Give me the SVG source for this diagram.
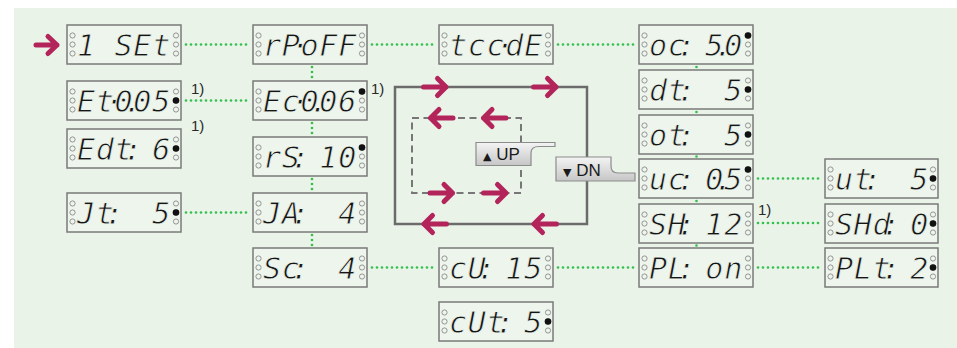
<svg xmlns="http://www.w3.org/2000/svg" xmlns:xlink="http://www.w3.org/1999/xlink" width="957" height="348" viewBox="0 0 957 348">
<style>
.box{fill:#edf5ec;stroke:#7a7a7a;stroke-width:1.5}
.led{fill:none;stroke:#8a8a8a;stroke-width:0.9}
.on{fill:#111}
.lcd{font-family:"DejaVu Sans Mono","Liberation Mono",monospace;font-style:oblique;font-size:30px;fill:#151515;stroke:#edf5ec;stroke-width:0.8;text-anchor:middle}
.note{font-family:"Liberation Sans",Arial,sans-serif;font-size:15px;fill:#2a2a2a}
.dot{stroke:#35c04f;stroke-width:2.7;stroke-linecap:round;stroke-dasharray:0 5;fill:none}
.arr{fill:none;stroke:#b3245b;stroke-width:5;stroke-linecap:round;stroke-linejoin:round}
.btn{stroke:#8c8c8c;stroke-width:1.2;fill:url(#bg)}
.btxt{font-family:"Liberation Sans",Arial,sans-serif;font-size:17px;fill:#1a1a1a}
</style>
<defs>
<linearGradient id="bg" x1="0" y1="0" x2="0" y2="1"><stop offset="0" stop-color="#f4f4f4"/><stop offset="1" stop-color="#c6c6c6"/></linearGradient>
<g id="leds"><circle class="led" cx="0" cy="-9" r="2.6"/><circle class="led" cx="0" cy="0" r="2.6"/><circle class="led" cx="0" cy="9" r="2.6"/></g>
<path id="ar" d="M-11.5,0 H11 M2.5,-8.5 L11,0 L2.5,8.5"/>
</defs>
<rect x="14" y="8" width="943" height="340" fill="#e9f3e8"/>

<g id="connectors">
<path class="dot" d="M186,44.5 H250 M372,44.5 H436 M558,44.5 H636 M186,100.5 H250 M186,212.5 H250 M372,267.5 H436 M558,267.5 H636 M758,178.5 H822 M758,223 H822 M758,267.5 H822"/>
<path class="dot" d="M312,67 V78 M312,123 V134 M312,179 V190 M312,235 V246"/>
<path class="dot" d="M696.5,67 V67.1 M696.5,112 V112.1 M696.5,156.5 V156.6 M696.5,201 V201.1 M696.5,245.5 V245.6"/>
</g>

<g id="start-arrow"><path class="arr" stroke-width="5.5" d="M36,45 H57 M48,36.5 L57,45 L48,53.5"/></g>

<!-- column 1 -->
<g id="n-1set"><rect class="box" x="67" y="25" width="114" height="39"/><use xlink:href="#leds" x="72.5" y="44.5"/><use xlink:href="#leds" x="176" y="44.5"/>
<text class="lcd" y="56" x="86 104.8 123.6 142.4 161.2" xml:space="preserve">1 SEt</text></g>
<g id="n-et"><rect class="box" x="67" y="81" width="114" height="39"/><use xlink:href="#leds" x="72.5" y="100.5"/><use xlink:href="#leds" x="176" y="100.5"/><circle class="on" cx="176" cy="100.5" r="3.3"/>
<text class="lcd" y="112" x="86 104.8 114.2 123.6 133 142.4 161.2">Et·0.05</text></g>
<g id="n-edt"><rect class="box" x="67" y="129" width="114" height="39"/><use xlink:href="#leds" x="72.5" y="148.5"/><use xlink:href="#leds" x="176" y="148.5"/><circle class="on" cx="176" cy="148.5" r="3.3"/>
<text class="lcd" y="160" x="86 104.8 123.6 133 142.4 161.2" xml:space="preserve">Edt: 6</text></g>
<g id="n-jt"><rect class="box" x="67" y="193" width="114" height="39"/><use xlink:href="#leds" x="72.5" y="212.5"/><use xlink:href="#leds" x="176" y="212.5"/><circle class="on" cx="176" cy="212.5" r="3.3"/>
<text class="lcd" y="224" x="86 104.8 114.2 123.6 161.2" xml:space="preserve">Jt: 5</text></g>

<!-- column 2 -->
<g id="n-rpoff"><rect class="box" x="253" y="25" width="114" height="39"/><use xlink:href="#leds" x="258.5" y="44.5"/><use xlink:href="#leds" x="362" y="44.5"/>
<text class="lcd" y="56" x="272 290.8 300.2 309.6 328.4 347.2">rP·oFF</text></g>
<g id="n-ec"><rect class="box" x="253" y="81" width="114" height="39"/><use xlink:href="#leds" x="258.5" y="100.5"/><use xlink:href="#leds" x="362" y="100.5"/><circle class="on" cx="362" cy="91.5" r="3.3"/>
<text class="lcd" y="112" x="272 290.8 300.2 309.6 319 328.4 347.2">Ec·0.06</text></g>
<g id="n-rs"><rect class="box" x="253" y="137" width="114" height="39"/><use xlink:href="#leds" x="258.5" y="156.5"/><use xlink:href="#leds" x="362" y="156.5"/><circle class="on" cx="362" cy="147.5" r="3.3"/>
<text class="lcd" y="168" x="272 290.8 300.2 309.6 328.4 347.2" xml:space="preserve">rS: 10</text></g>
<g id="n-ja"><rect class="box" x="253" y="193" width="114" height="39"/><use xlink:href="#leds" x="258.5" y="212.5"/><use xlink:href="#leds" x="362" y="212.5"/>
<text class="lcd" y="224" x="272 290.8 300.2 309.6 347.2" xml:space="preserve">JA: 4</text></g>
<g id="n-sc"><rect class="box" x="253" y="248" width="114" height="39"/><use xlink:href="#leds" x="258.5" y="267.5"/><use xlink:href="#leds" x="362" y="267.5"/>
<text class="lcd" y="279" x="272 290.8 300.2 309.6 347.2" xml:space="preserve">Sc: 4</text></g>

<!-- column 3 -->
<g id="n-tccde"><rect class="box" x="439" y="25" width="114" height="39"/><use xlink:href="#leds" x="444.5" y="44.5"/><use xlink:href="#leds" x="548" y="44.5"/>
<text class="lcd" y="56" x="458 476.8 495.6 505 514.4 533.2">tcc·dE</text></g>
<g id="n-cu"><rect class="box" x="439" y="248" width="114" height="39"/><use xlink:href="#leds" x="444.5" y="267.5"/><use xlink:href="#leds" x="548" y="267.5"/>
<text class="lcd" y="279" x="458 476.8 486.2 495.6 514.4 533.2" xml:space="preserve">cU: 15</text></g>
<g id="n-cut"><rect class="box" x="439" y="302" width="114" height="39"/><use xlink:href="#leds" x="444.5" y="321.5"/><use xlink:href="#leds" x="548" y="321.5"/><circle class="on" cx="548" cy="321.5" r="3.3"/>
<text class="lcd" y="333" x="458 476.8 495.6 505 514.4 533.2" xml:space="preserve">cUt: 5</text></g>

<!-- column 4 -->
<g id="n-oc"><rect class="box" x="639" y="25" width="114" height="39"/><use xlink:href="#leds" x="644.5" y="44.5"/><use xlink:href="#leds" x="748" y="44.5"/><circle class="on" cx="748" cy="35.5" r="3.3"/>
<text class="lcd" y="56" x="658 676.8 686.2 695.6 714.4 723.8 733.2" xml:space="preserve">oc: 5.0</text></g>
<g id="n-dt"><rect class="box" x="639" y="70" width="114" height="39"/><use xlink:href="#leds" x="644.5" y="89.5"/><use xlink:href="#leds" x="748" y="89.5"/><circle class="on" cx="748" cy="89.5" r="3.3"/>
<text class="lcd" y="101" x="658 676.8 686.2 695.6 733.2" xml:space="preserve">dt: 5</text></g>
<g id="n-ot"><rect class="box" x="639" y="115" width="114" height="39"/><use xlink:href="#leds" x="644.5" y="134.5"/><use xlink:href="#leds" x="748" y="134.5"/><circle class="on" cx="748" cy="134.5" r="3.3"/>
<text class="lcd" y="146" x="658 676.8 686.2 695.6 733.2" xml:space="preserve">ot: 5</text></g>
<g id="n-uc"><rect class="box" x="639" y="159" width="114" height="39"/><use xlink:href="#leds" x="644.5" y="178.5"/><use xlink:href="#leds" x="748" y="178.5"/><circle class="on" cx="748" cy="169.5" r="3.3"/>
<text class="lcd" y="190" x="658 676.8 686.2 695.6 714.4 723.8 733.2" xml:space="preserve">uc: 0.5</text></g>
<g id="n-sh"><rect class="box" x="639" y="204" width="114" height="39"/><use xlink:href="#leds" x="644.5" y="223.5"/><use xlink:href="#leds" x="748" y="223.5"/>
<text class="lcd" y="235" x="658 676.8 686.2 695.6 714.4 733.2" xml:space="preserve">SH: 12</text></g>
<g id="n-pl"><rect class="box" x="639" y="248" width="114" height="39"/><use xlink:href="#leds" x="644.5" y="267.5"/><use xlink:href="#leds" x="748" y="267.5"/>
<text class="lcd" y="279" x="658 676.8 686.2 695.6 714.4 733.2" xml:space="preserve">PL: on</text></g>

<!-- column 5 -->
<g id="n-ut"><rect class="box" x="825" y="159" width="113" height="39"/><use xlink:href="#leds" x="830.5" y="178.5"/><use xlink:href="#leds" x="933" y="178.5"/><circle class="on" cx="933" cy="178.5" r="3.3"/>
<text class="lcd" y="190" x="844 862.8 872.2 881.6 919.2" xml:space="preserve">ut: 5</text></g>
<g id="n-shd"><rect class="box" x="825" y="204" width="113" height="39"/><use xlink:href="#leds" x="830.5" y="223.5"/><use xlink:href="#leds" x="933" y="223.5"/><circle class="on" cx="933" cy="223.5" r="3.3"/>
<text class="lcd" y="235" x="844 862.8 881.6 891 900.4 919.2" xml:space="preserve">SHd: 0</text></g>
<g id="n-plt"><rect class="box" x="825" y="248" width="113" height="39"/><use xlink:href="#leds" x="830.5" y="267.5"/><use xlink:href="#leds" x="933" y="267.5"/><circle class="on" cx="933" cy="267.5" r="3.3"/>
<text class="lcd" y="279" x="844 862.8 881.6 891 900.4 919.2" xml:space="preserve">PLt: 2</text></g>

<!-- notes -->
<g id="notes">
<text class="note" x="191" y="94">1)</text>
<text class="note" x="191" y="131">1)</text>
<text class="note" x="371" y="94">1)</text>
<text class="note" x="758" y="215">1)</text>
</g>

<!-- key loop -->
<g id="key-loop">
<rect x="395" y="87" width="192" height="137" fill="none" stroke="#6b6b6b" stroke-width="2.5"/>
<rect x="412" y="118" width="109" height="75" fill="none" stroke="#777" stroke-width="2" stroke-dasharray="7 4.5"/>
<g class="arr">
<use xlink:href="#ar" transform="translate(435,87)"/>
<use xlink:href="#ar" transform="translate(545,87)"/>
<use xlink:href="#ar" transform="translate(435,224) rotate(180)"/>
<use xlink:href="#ar" transform="translate(545,224) rotate(180)"/>
<use xlink:href="#ar" transform="translate(441.5,118) rotate(180)"/>
<use xlink:href="#ar" transform="translate(494.5,118) rotate(180)"/>
<use xlink:href="#ar" transform="translate(441.5,193)"/>
<use xlink:href="#ar" transform="translate(495,193)"/>
</g>
</g>
<g id="btn-up">
<path class="btn" d="M476,142.5 H555 V146.5 H539 Q531,146.5 531,153 V165.5 H476 Z"/>
<text class="btxt" x="483" y="160"><tspan font-family="DejaVu Sans,sans-serif" font-size="11">▲</tspan> UP</text>
</g>
<g id="btn-dn">
<path class="btn" d="M556,157 H611 V166 Q611,173 618,173 H635 V181 H556 Z"/>
<text class="btxt" x="563" y="175.5"><tspan font-family="DejaVu Sans,sans-serif" font-size="11">▼</tspan> DN</text>
</g>
</svg>
